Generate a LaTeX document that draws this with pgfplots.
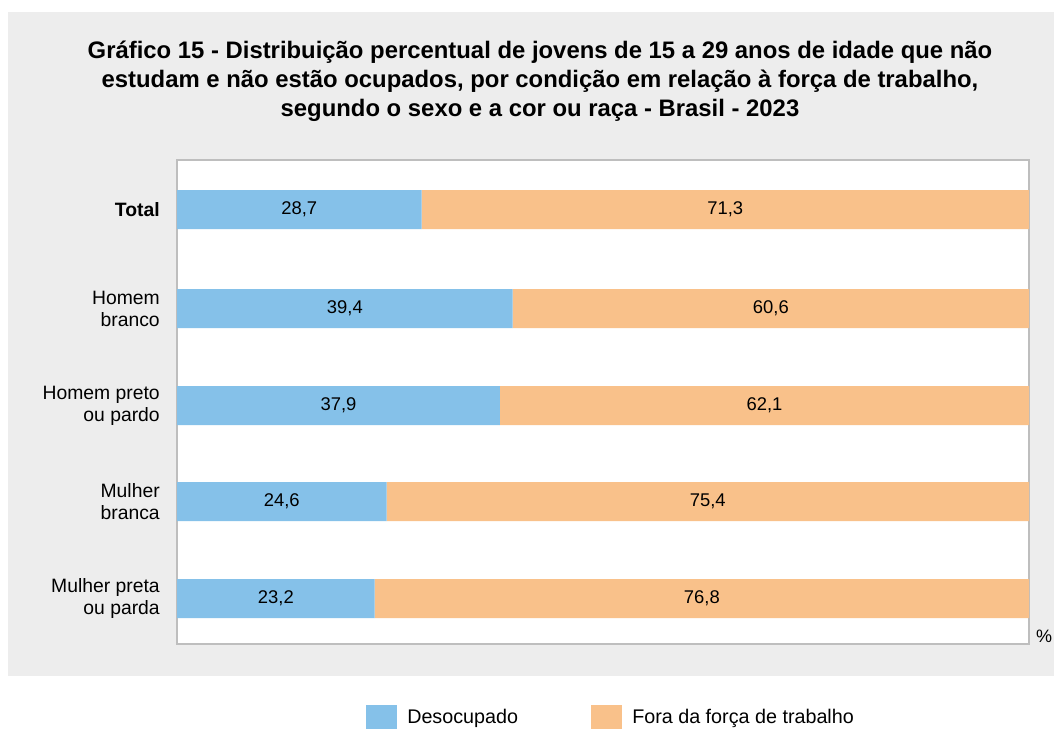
\documentclass[border=0pt]{standalone}
\usepackage{pgfplots}
\pgfplotsset{compat=1.18}
\usepackage{fontspec}
\setmainfont{Liberation Sans}
\definecolor{cblue}{RGB}{133,193,233}
\definecolor{corange}{RGB}{249,193,138}
\definecolor{cpanel}{RGB}{237,237,237}
\definecolor{cframe}{RGB}{190,190,190}
\tikzset{vl/.style={font=\fontsize{13.8}{16}\selectfont}}
\begin{document}
\begin{tikzpicture}
\path[use as bounding box] (0,0) rectangle (790.5pt,546.75pt);
\fill[cpanel] (6pt,39.75pt) rectangle (790.5pt,537.75pt);
\node[anchor=base, align=center, font=\fontsize{17.9}{21.75}\selectfont\bfseries] at (405pt,459pt)
 {Gráfico 15 - Distribuição percentual de jovens de 15 a 29 anos de idade que não\\
  estudam e não estão ocupados, por condição em relação à força de trabalho,\\
  segundo o sexo e a cor ou raça - Brasil - 2023};
\begin{axis}[
  at={(132.75pt,63.75pt)}, anchor=south west,
  scale only axis, width=639pt, height=363pt,
  xbar stacked, bar width=39,
  xmin=0, xmax=100, ymin=160, ymax=644, y dir=reverse,
  axis background/.style={fill=white},
  axis line style={cframe, line width=0.8pt},
  xtick=\empty,
  ytick={209.5,308.5,405.5,501.5,598.5},
  yticklabels={\textbf{Total}, Homem\\branco, Homem preto\\ou pardo, Mulher\\branca, Mulher preta\\ou parda},
  yticklabel style={align=right, inner sep=0pt, xshift=-12.75pt, font=\fontsize{14.5}{16.5}\selectfont},
  major tick length=0pt,
  clip=false,
]
\addplot[fill=cblue, draw=none] coordinates {(28.7,209.5) (39.4,308.5) (37.9,405.5) (24.6,501.5) (23.2,598.5)};
\addplot[fill=corange, draw=none] coordinates {(71.3,209.5) (60.6,308.5) (62.1,405.5) (75.4,501.5) (76.8,598.5)};
\coordinate (a0) at (axis cs:14.35,209.5);
\coordinate (b0) at (axis cs:64.35,209.5);
\coordinate (a1) at (axis cs:19.7,308.5);
\coordinate (b1) at (axis cs:69.7,308.5);
\coordinate (a2) at (axis cs:18.95,405.5);
\coordinate (b2) at (axis cs:68.95,405.5);
\coordinate (a3) at (axis cs:12.3,501.5);
\coordinate (b3) at (axis cs:62.3,501.5);
\coordinate (a4) at (axis cs:11.6,598.5);
\coordinate (b4) at (axis cs:61.6,598.5);
\end{axis}
\node[vl] at (a0) {28,7};
\node[vl] at (b0) {71,3};
\node[vl] at (a1) {39,4};
\node[vl] at (b1) {60,6};
\node[vl] at (a2) {37,9};
\node[vl] at (b2) {62,1};
\node[vl] at (a3) {24,6};
\node[vl] at (b3) {75,4};
\node[vl] at (a4) {23,2};
\node[vl] at (b4) {76,8};
\node[font=\fontsize{13.5}{16}\selectfont] at (783pt,69.75pt) {\%};
\fill[cblue] (274.5pt,0pt) rectangle (297.75pt,18pt);
\node[anchor=base west, inner sep=0pt, font=\fontsize{14.8}{16}\selectfont] at (305.25pt,4.5pt) {Desocupado};
\fill[corange] (443.25pt,0pt) rectangle (466.5pt,18pt);
\node[anchor=base west, inner sep=0pt, font=\fontsize{14.8}{16}\selectfont] at (474pt,4.5pt) {Fora da força de trabalho};
\end{tikzpicture}
\end{document}
